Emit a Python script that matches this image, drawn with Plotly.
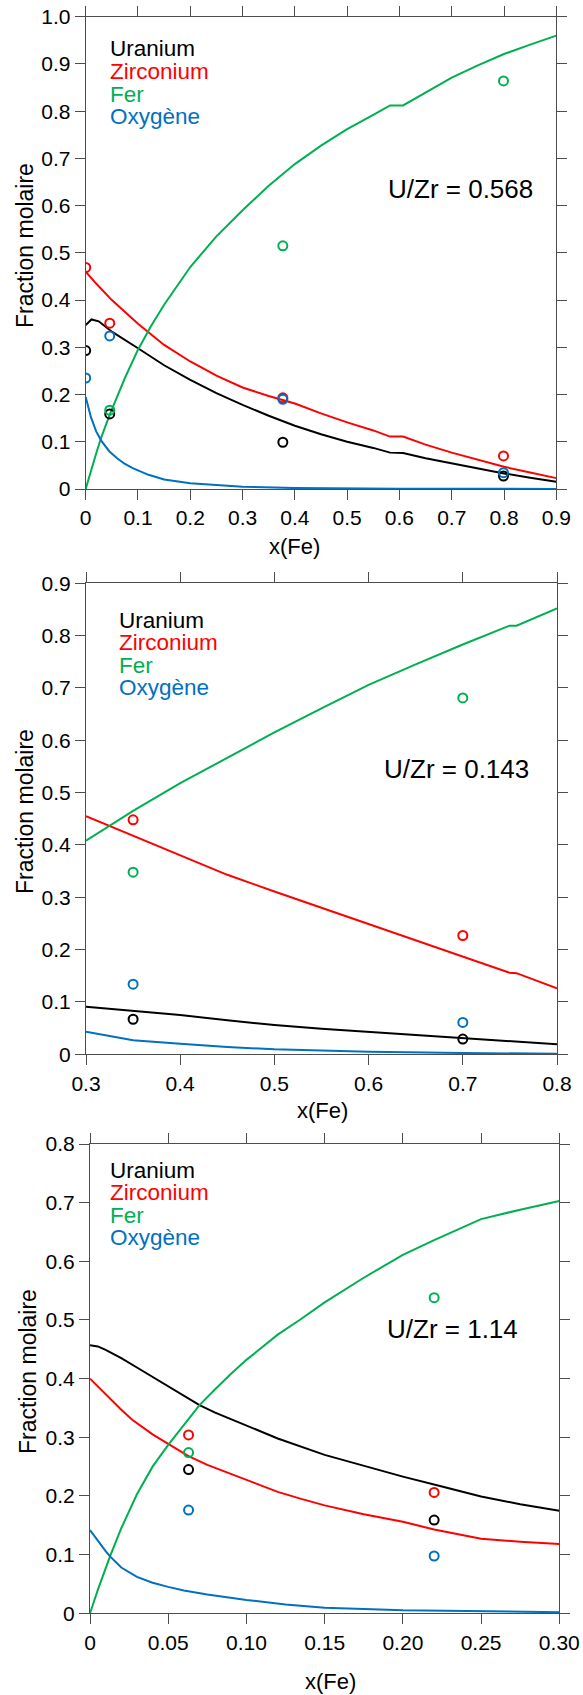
import plotly.graph_objects as go

# The page's default 8 px body margin is removed (post_script) so the figure
# fills the 583 x 1695 window exactly.
W, H = 583, 1695
FONT = "Liberation Sans, Arial, sans-serif"
BLACK, RED, GREEN, BLUE = "#000000", "#ff0000", "#00b050", "#0070c0"
AXC = "#4d4d4d"

species = ["Uranium", "Zirconium", "Fer", "Oxygène"]
colors = [BLACK, RED, GREEN, BLUE]
ratio_labels = ["U/Zr = 0.568", "U/Zr = 0.143", "U/Zr = 1.14"]

# ---------------- Panel 1 : U/Zr = 0.568 ----------------
p1_u_x = [0, 0.011, 0.025, 0.05, 0.1, 0.15, 0.2, 0.25, 0.3, 0.35, 0.4, 0.45, 0.5, 0.55, 0.582, 0.607, 0.65, 0.7, 0.75, 0.8, 0.85, 0.9]
p1_u_y = [0.347, 0.359, 0.355, 0.333, 0.298, 0.262, 0.231, 0.203, 0.178, 0.155, 0.134, 0.116, 0.100, 0.087, 0.077, 0.076, 0.065, 0.054, 0.043, 0.033, 0.024, 0.0155]
p1_zr_x = [0, 0.02, 0.05, 0.1, 0.15, 0.2, 0.25, 0.3, 0.35, 0.4, 0.45, 0.5, 0.55, 0.582, 0.607, 0.65, 0.7, 0.75, 0.8, 0.85, 0.9]
p1_zr_y = [0.46, 0.435, 0.40, 0.35, 0.305, 0.27, 0.24, 0.215, 0.197, 0.181, 0.16, 0.141, 0.124, 0.111, 0.111, 0.094, 0.077, 0.062, 0.047, 0.035, 0.023]
p1_fe_x = [0, 0.01, 0.02, 0.03, 0.045, 0.06, 0.075, 0.1, 0.125, 0.15, 0.175, 0.2, 0.25, 0.3, 0.35, 0.4, 0.45, 0.5, 0.55, 0.582, 0.607, 0.65, 0.7, 0.75, 0.8, 0.85, 0.9]
p1_fe_y = [0, 0.04, 0.075, 0.11, 0.155, 0.195, 0.235, 0.295, 0.345, 0.39, 0.43, 0.47, 0.535, 0.59, 0.642, 0.688, 0.727, 0.762, 0.792, 0.812, 0.812, 0.84, 0.871, 0.897, 0.921, 0.941, 0.96]
p1_o_x = [0, 0.005, 0.01, 0.02, 0.03, 0.045, 0.06, 0.075, 0.09, 0.12, 0.15, 0.2, 0.25, 0.3, 0.4, 0.5, 0.6, 0.9]
p1_o_y = [0.195, 0.17, 0.152, 0.122, 0.102, 0.08, 0.065, 0.053, 0.044, 0.03, 0.02, 0.012, 0.008, 0.005, 0.002, 0.001, 0.0005, 0.0002]
p1_meas_x = [0, 0.046, 0.377, 0.799]
p1_meas_u = [0.293, 0.159, 0.099, 0.0275]
p1_meas_zr = [0.469, 0.351, 0.193, 0.070]
p1_meas_fe = [None, 0.167, 0.515, 0.864]
p1_meas_o = [0.235, 0.324, 0.190, 0.0346]

# ---------------- Panel 2 : U/Zr = 0.143 ----------------
p2_u_x = [0.3, 0.35, 0.4, 0.45, 0.5, 0.55, 0.6, 0.65, 0.7, 0.75, 0.8]
p2_u_y = [0.091, 0.083, 0.075, 0.065, 0.056, 0.049, 0.043, 0.036, 0.0305, 0.024, 0.019]
p2_zr_x = [0.3, 0.35, 0.4, 0.45, 0.5, 0.55, 0.6, 0.65, 0.7, 0.7496, 0.757, 0.8]
p2_zr_y = [0.455, 0.418, 0.38, 0.343, 0.311, 0.28, 0.25, 0.218, 0.187, 0.156, 0.155, 0.126]
p2_fe_x = [0.3, 0.35, 0.4, 0.45, 0.5, 0.55, 0.6, 0.65, 0.7, 0.7496, 0.757, 0.8]
p2_fe_y = [0.408, 0.465, 0.518, 0.566, 0.615, 0.661, 0.706, 0.745, 0.783, 0.819, 0.819, 0.852]
p2_o_x = [0.3, 0.35, 0.4, 0.45, 0.5, 0.6, 0.7, 0.8]
p2_o_y = [0.043, 0.027, 0.020, 0.014, 0.0095, 0.005, 0.0025, 0.001]
p2_meas_x = [0.35, 0.70]
p2_meas_u = [0.067, 0.029]
p2_meas_zr = [0.448, 0.227]
p2_meas_fe = [0.348, 0.681]
p2_meas_o = [0.134, 0.061]

# ---------------- Panel 3 : U/Zr = 1.14 ----------------
p3_u_x = [0, 0.005, 0.01, 0.02, 0.03, 0.04, 0.05, 0.06, 0.07, 0.08, 0.09, 0.1, 0.12, 0.15, 0.175, 0.2, 0.225, 0.25, 0.275, 0.3]
p3_u_y = [0.457, 0.455, 0.449, 0.435, 0.419, 0.403, 0.387, 0.371, 0.355, 0.342, 0.331, 0.32, 0.298, 0.270, 0.251, 0.233, 0.216, 0.199, 0.186, 0.175]
p3_zr_x = [0, 0.01, 0.02, 0.027, 0.04, 0.05, 0.063, 0.075, 0.1, 0.12, 0.135, 0.15, 0.175, 0.2, 0.22, 0.25, 0.275, 0.3]
p3_zr_y = [0.40, 0.373, 0.347, 0.33, 0.305, 0.289, 0.268, 0.253, 0.228, 0.207, 0.195, 0.184, 0.169, 0.156, 0.143, 0.127, 0.122, 0.118]
p3_fe_x = [0, 0.005, 0.0128, 0.02, 0.03, 0.04, 0.05, 0.063, 0.07, 0.08, 0.09, 0.1, 0.12, 0.134, 0.15, 0.175, 0.2, 0.22, 0.25, 0.275, 0.3]
p3_fe_y = [0, 0.04, 0.097, 0.145, 0.203, 0.25, 0.287, 0.33, 0.355, 0.382, 0.408, 0.432, 0.475, 0.50, 0.53, 0.572, 0.611, 0.636, 0.672, 0.688, 0.703]
p3_o_x = [0, 0.005, 0.01, 0.0128, 0.02, 0.03, 0.04, 0.05, 0.06, 0.075, 0.1, 0.125, 0.15, 0.2, 0.25, 0.3]
p3_o_y = [0.142, 0.123, 0.106, 0.097, 0.078, 0.062, 0.052, 0.045, 0.039, 0.032, 0.0227, 0.015, 0.0095, 0.005, 0.003, 0.002]
p3_meas_x = [0.063, 0.220]
p3_meas_u = [0.245, 0.159]
p3_meas_zr = [0.304, 0.206]
p3_meas_fe = [0.274, 0.538]
p3_meas_o = [0.176, 0.0977]

# tick labels
p1_xticks = [0, 0.1, 0.2, 0.3, 0.4, 0.5, 0.6, 0.7, 0.8, 0.9]
p1_xtext = ["0", "0.1", "0.2", "0.3", "0.4", "0.5", "0.6", "0.7", "0.8", "0.9"]
p1_yticks = [0, 0.1, 0.2, 0.3, 0.4, 0.5, 0.6, 0.7, 0.8, 0.9, 1.0]
p1_ytext = ["0", "0.1", "0.2", "0.3", "0.4", "0.5", "0.6", "0.7", "0.8", "0.9", "1.0"]
p2_xticks = [0.3, 0.4, 0.5, 0.6, 0.7, 0.8]
p2_xtext = ["0.3", "0.4", "0.5", "0.6", "0.7", "0.8"]
p2_yticks = [0, 0.1, 0.2, 0.3, 0.4, 0.5, 0.6, 0.7, 0.8, 0.9]
p2_ytext = ["0", "0.1", "0.2", "0.3", "0.4", "0.5", "0.6", "0.7", "0.8", "0.9"]
p3_xticks = [0, 0.05, 0.10, 0.15, 0.20, 0.25, 0.30]
p3_xtext = ["0", "0.05", "0.10", "0.15", "0.20", "0.25", "0.30"]
p3_yticks = [0, 0.1, 0.2, 0.3, 0.4, 0.5, 0.6, 0.7, 0.8]
p3_ytext = ["0", "0.1", "0.2", "0.3", "0.4", "0.5", "0.6", "0.7", "0.8"]

panels = [
    dict(lines=[(p1_u_x, p1_u_y), (p1_zr_x, p1_zr_y), (p1_fe_x, p1_fe_y), (p1_o_x, p1_o_y)],
         mx=p1_meas_x, meas=[p1_meas_u, p1_meas_zr, p1_meas_fe, p1_meas_o],
         xr=[0, 0.9], yr=[0, 1.0], xt=(p1_xticks, p1_xtext), yt=(p1_yticks, p1_ytext),
         box=(85.7, 556.3, 16.7, 489.0), leg=(108, [49, 71.5, 94, 116.5]), ratio=(386, 189),
         xtitle=(294, 546), ytitle=(25, 246)),
    dict(lines=[(p2_u_x, p2_u_y), (p2_zr_x, p2_zr_y), (p2_fe_x, p2_fe_y), (p2_o_x, p2_o_y)],
         mx=p2_meas_x, meas=[p2_meas_u, p2_meas_zr, p2_meas_fe, p2_meas_o],
         xr=[0.3, 0.8], yr=[0, 0.9], xt=(p2_xticks, p2_xtext), yt=(p2_yticks, p2_ytext),
         box=(86.0, 557.0, 583.3, 1054.3), leg=(116.5, [620.5, 642.5, 665, 687.5]), ratio=(382, 769),
         xtitle=(322.5, 1110), ytitle=(25, 812)),
    dict(lines=[(p3_u_x, p3_u_y), (p3_zr_x, p3_zr_y), (p3_fe_x, p3_fe_y), (p3_o_x, p3_o_y)],
         mx=p3_meas_x, meas=[p3_meas_u, p3_meas_zr, p3_meas_fe, p3_meas_o],
         xr=[0, 0.3], yr=[0, 0.8], xt=(p3_xticks, p3_xtext), yt=(p3_yticks, p3_ytext),
         box=(90.0, 559.3, 1144.0, 1613.3), leg=(108, [1170.5, 1192.5, 1215, 1237.5]), ratio=(385, 1329),
         xtitle=(330.5, 1681), ytitle=(28, 1372)),
]


def px(x):
    return x / W


def py(y):
    return 1 - y / H


fig = go.Figure()
annotations = []
layout_axes = {}

for i, p in enumerate(panels, start=1):
    xa = "x" if i == 1 else f"x{i}"
    ya = "y" if i == 1 else f"y{i}"
    for (lx, ly), c in zip(p["lines"], colors):
        fig.add_trace(go.Scatter(x=lx, y=ly, mode="lines", line=dict(color=c, width=2),
                                 xaxis=xa, yaxis=ya, showlegend=False, hoverinfo="skip"))
    for vals, c in zip(p["meas"], colors):
        fig.add_trace(go.Scatter(x=p["mx"], y=vals, mode="markers", cliponaxis=True,
                                 marker=dict(symbol="circle-open", size=9, color=c, line=dict(width=2, color=c)),
                                 xaxis=xa, yaxis=ya, showlegend=False, hoverinfo="skip"))
    x0, x1, y0, y1 = p["box"]
    common = dict(showline=True, linecolor=AXC, linewidth=1, mirror="allticks", ticks="outside",
                  ticklen=10, tickcolor=AXC, tickwidth=1, showgrid=False, zeroline=False,
                  ticklabeloverflow="allow",
                  tickfont=dict(family=FONT, size=21, color="black"), automargin=False)
    layout_axes["xaxis" if i == 1 else f"xaxis{i}"] = dict(
        domain=[px(x0), px(x1)], anchor=ya, range=p["xr"], tickmode="array",
        tickvals=p["xt"][0], ticktext=p["xt"][1], **common)
    layout_axes["yaxis" if i == 1 else f"yaxis{i}"] = dict(
        domain=[py(y1), py(y0)], anchor=xa, range=p["yr"], tickmode="array",
        tickvals=p["yt"][0], ticktext=p["yt"][1], **common)
    lx, lys = p["leg"]
    for name, c, yy in zip(species, colors, lys):
        annotations.append(dict(text=name, x=px(lx), y=py(yy), xref="paper", yref="paper",
                                xanchor="left", yanchor="middle", showarrow=False,
                                font=dict(family=FONT, size=22.5, color=c)))
    rx, ry = p["ratio"]
    annotations.append(dict(text=ratio_labels[i - 1], x=px(rx), y=py(ry), xref="paper", yref="paper",
                            xanchor="left", yanchor="middle", showarrow=False,
                            font=dict(family=FONT, size=26, color="black")))
    tx, ty = p["xtitle"]
    annotations.append(dict(text="x(Fe)", x=px(tx), y=py(ty), xref="paper", yref="paper",
                            xanchor="center", yanchor="middle", showarrow=False,
                            font=dict(family=FONT, size=22, color="black")))
    vx, vy = p["ytitle"]
    annotations.append(dict(text="Fraction molaire", x=px(vx), y=py(vy), xref="paper", yref="paper",
                            xanchor="center", yanchor="middle", showarrow=False, textangle=-90,
                            font=dict(family=FONT, size=23, color="black")))

fig.update_layout(width=W, height=H, margin=dict(l=0, r=0, t=0, b=0),
                  paper_bgcolor="white", plot_bgcolor="white",
                  font=dict(family=FONT, color="black"),
                  annotations=annotations, **layout_axes)

fig.write_html("out.html", config={"displayModeBar": False},
               post_script="document.body.style.margin='0';document.body.style.overflow='hidden';")
